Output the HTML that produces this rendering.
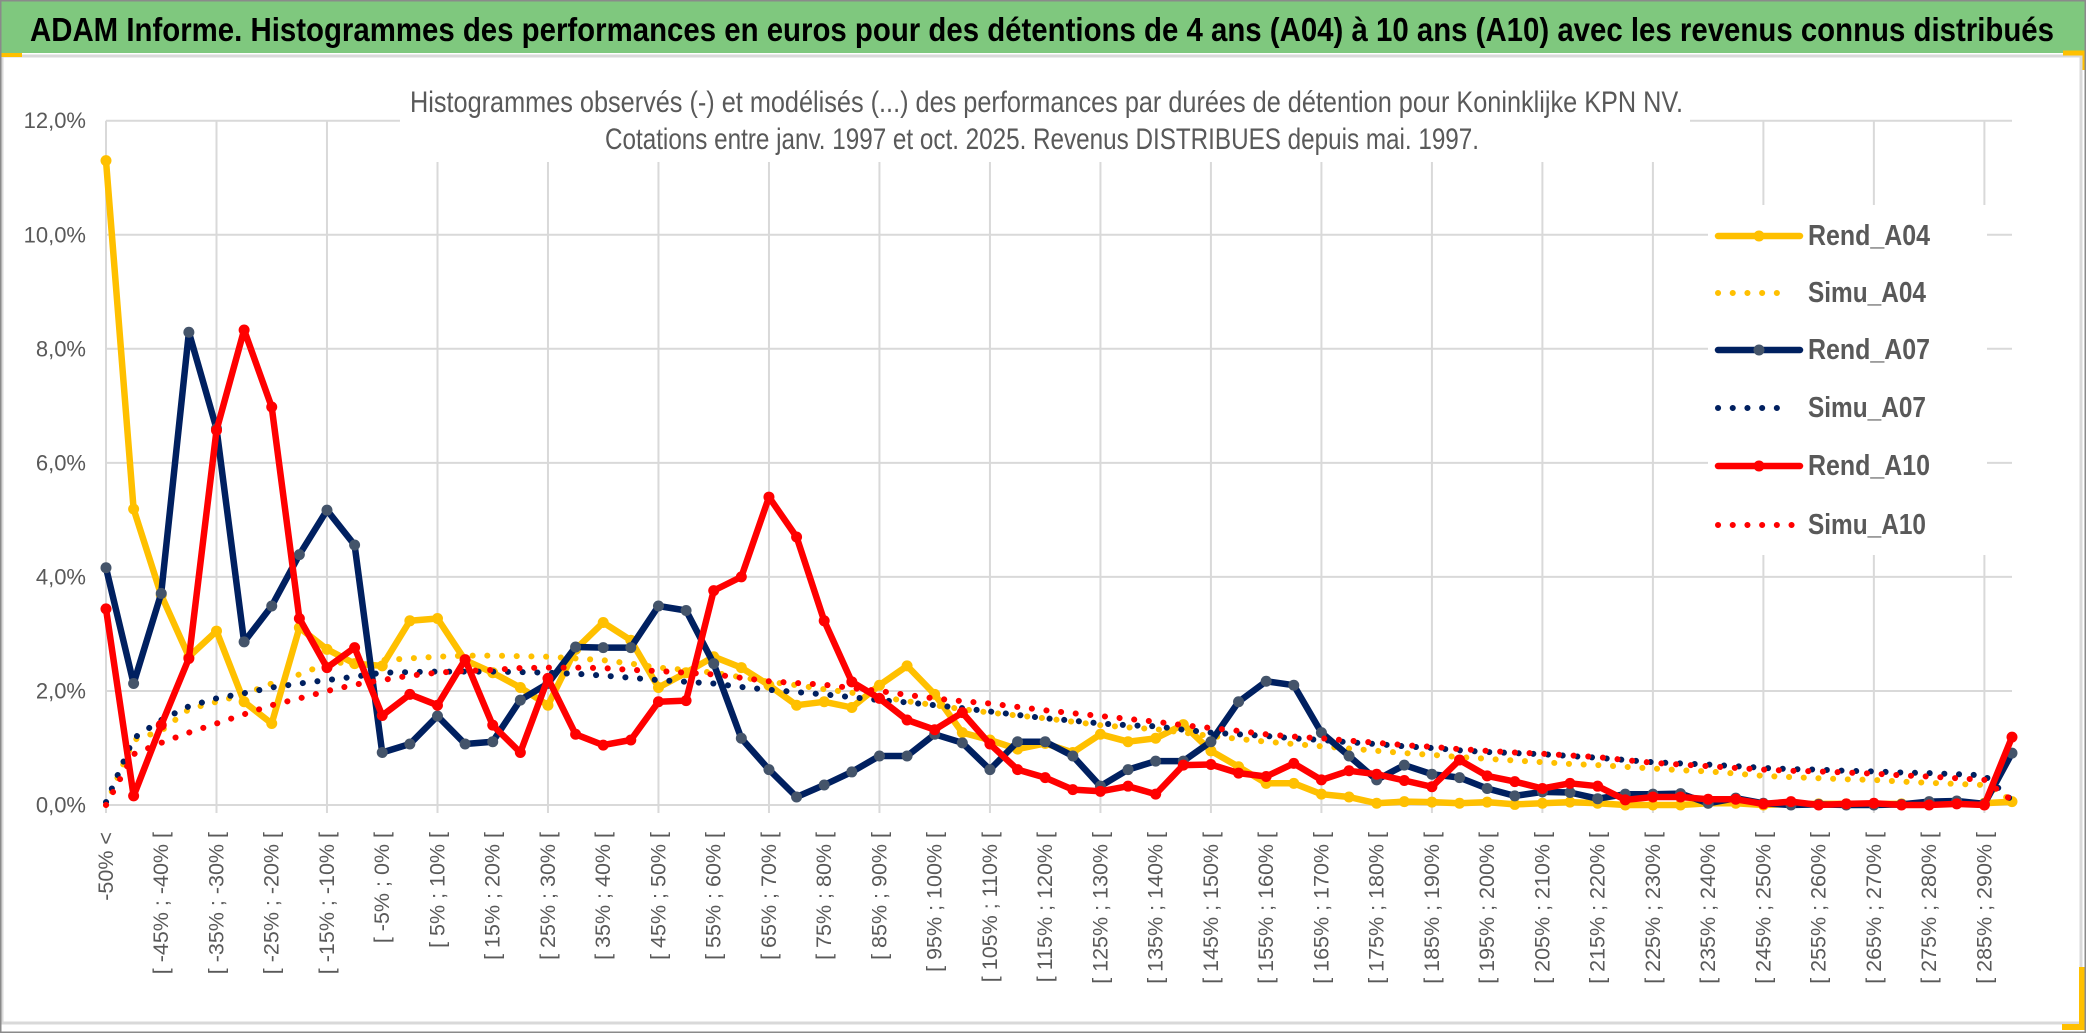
<!DOCTYPE html>
<html><head><meta charset="utf-8"><title>ADAM Informe KPN</title>
<style>html,body{margin:0;padding:0;background:#fff;}svg{display:block;}</style></head>
<body>
<svg id="chart" xmlns="http://www.w3.org/2000/svg" width="2086" height="1033" viewBox="0 0 2086 1033" font-family="'Liberation Sans', sans-serif">
  <rect x="0" y="0" width="2086" height="1033" fill="#fff"/>
  <rect x="0" y="0" width="2086" height="53" fill="#7fc87e"/>
  <text x="30" y="41" font-size="33" font-weight="bold" fill="#000" textLength="2024" lengthAdjust="spacingAndGlyphs">ADAM Informe. Histogrammes des performances en euros pour des détentions de 4 ans (A04) à 10 ans (A10) avec les revenus connus distribués</text>
  <rect x="2" y="56" width="2079" height="967" fill="none" stroke="#d9d9d9" stroke-width="3"/>
  <rect x="0" y="53" width="22" height="4" fill="#ffc000"/>
  <path d="M2063 53 H2085 V70" fill="none" stroke="#ffc000" stroke-width="5"/>
  <path d="M2062 1027 H2082 V967" fill="none" stroke="#ffc000" stroke-width="6"/>
  <rect x="0.5" y="0.5" width="2085" height="1032" fill="none" stroke="#8a8a8a" stroke-width="2"/>
  <g id="grid"></g>
  <g id="yaxis"></g>
  <g id="xaxis"></g>
  <g id="series"></g>
  <rect x="400" y="62" width="1290" height="100" fill="#fff"/>
  <text x="410" y="112" font-size="30" fill="#595959" textLength="1273" lengthAdjust="spacingAndGlyphs">Histogrammes observés (-) et modélisés (...) des performances par durées de détention pour Koninklijke KPN NV.</text>
  <text x="605" y="149" font-size="30" fill="#595959" textLength="874" lengthAdjust="spacingAndGlyphs">Cotations entre janv. 1997 et oct. 2025. Revenus DISTRIBUES depuis mai. 1997.</text>
  <g id="legend"></g>
</svg>
<script>
const categories = ["-50% <","[ -50% ; -45% [","[ -45% ; -40% [","[ -40% ; -35% [","[ -35% ; -30% [","[ -30% ; -25% [","[ -25% ; -20% [","[ -20% ; -15% [","[ -15% ; -10% [","[ -10% ; -5% [","[ -5% ; 0% [","[ 0% ; 5% [","[ 5% ; 10% [","[ 10% ; 15% [","[ 15% ; 20% [","[ 20% ; 25% [","[ 25% ; 30% [","[ 30% ; 35% [","[ 35% ; 40% [","[ 40% ; 45% [","[ 45% ; 50% [","[ 50% ; 55% [","[ 55% ; 60% [","[ 60% ; 65% [","[ 65% ; 70% [","[ 70% ; 75% [","[ 75% ; 80% [","[ 80% ; 85% [","[ 85% ; 90% [","[ 90% ; 95% [","[ 95% ; 100% [","[ 100% ; 105% [","[ 105% ; 110% [","[ 110% ; 115% [","[ 115% ; 120% [","[ 120% ; 125% [","[ 125% ; 130% [","[ 130% ; 135% [","[ 135% ; 140% [","[ 140% ; 145% [","[ 145% ; 150% [","[ 150% ; 155% [","[ 155% ; 160% [","[ 160% ; 165% [","[ 165% ; 170% [","[ 170% ; 175% [","[ 175% ; 180% [","[ 180% ; 185% [","[ 185% ; 190% [","[ 190% ; 195% [","[ 195% ; 200% [","[ 200% ; 205% [","[ 205% ; 210% [","[ 210% ; 215% [","[ 215% ; 220% [","[ 220% ; 225% [","[ 225% ; 230% [","[ 230% ; 235% [","[ 235% ; 240% [","[ 240% ; 245% [","[ 245% ; 250% [","[ 250% ; 255% [","[ 255% ; 260% [","[ 260% ; 265% [","[ 265% ; 270% [","[ 270% ; 275% [","[ 275% ; 280% [","[ 280% ; 285% [","[ 285% ; 290% [","290% <="];
const rendA04 = [11.3,5.19,3.68,2.6,3.05,1.81,1.43,3.11,2.73,2.48,2.44,3.23,3.27,2.54,2.32,2.06,1.75,2.73,3.2,2.89,2.06,2.32,2.6,2.41,2.1,1.75,1.81,1.71,2.1,2.44,1.94,1.27,1.14,0.98,1.08,0.92,1.24,1.11,1.17,1.41,0.95,0.67,0.38,0.38,0.19,0.14,0.03,0.06,0.05,0.03,0.05,0.01,0.03,0.05,0.03,0.0,0.0,0.0,0.03,0.03,0.0,0.02,0.02,0.02,0.02,0.02,0.02,0.03,0.03,0.06];
const simuA04 = [0.0,1.14,1.3,1.68,1.81,1.94,2.13,2.29,2.48,2.51,2.54,2.57,2.6,2.62,2.62,2.61,2.6,2.57,2.54,2.48,2.41,2.37,2.32,2.24,2.16,2.1,2.03,1.97,1.9,1.82,1.75,1.68,1.62,1.57,1.52,1.46,1.4,1.36,1.33,1.27,1.21,1.16,1.11,1.07,1.03,0.99,0.95,0.91,0.88,0.84,0.81,0.78,0.75,0.72,0.7,0.67,0.64,0.61,0.59,0.55,0.51,0.49,0.47,0.45,0.44,0.41,0.39,0.37,0.35,0.08];
const rendA07 = [4.16,2.13,3.71,8.29,6.6,2.86,3.49,4.39,5.17,4.56,0.92,1.07,1.56,1.07,1.11,1.84,2.13,2.77,2.76,2.76,3.49,3.41,2.48,1.17,0.62,0.14,0.35,0.58,0.86,0.86,1.24,1.09,0.62,1.11,1.11,0.86,0.33,0.62,0.77,0.77,1.11,1.81,2.17,2.1,1.27,0.86,0.44,0.7,0.54,0.48,0.29,0.16,0.23,0.22,0.11,0.19,0.19,0.2,0.03,0.12,0.03,0.0,0.01,0.0,0.0,0.01,0.06,0.07,0.02,0.91];
const simuA07 = [0.05,1.17,1.49,1.73,1.87,1.96,2.06,2.13,2.19,2.25,2.32,2.33,2.34,2.34,2.34,2.33,2.32,2.3,2.27,2.23,2.19,2.16,2.13,2.07,2.02,1.98,1.94,1.89,1.84,1.8,1.75,1.7,1.64,1.58,1.52,1.48,1.43,1.4,1.38,1.32,1.27,1.24,1.21,1.17,1.14,1.1,1.07,1.03,1.0,0.96,0.93,0.91,0.89,0.86,0.83,0.79,0.75,0.73,0.71,0.68,0.65,0.63,0.62,0.6,0.59,0.57,0.56,0.54,0.52,0.08];
const rendA10 = [3.44,0.16,1.4,2.57,6.57,8.33,6.98,3.27,2.41,2.76,1.57,1.94,1.75,2.55,1.4,0.92,2.22,1.24,1.05,1.14,1.81,1.83,3.76,4.0,5.4,4.7,3.23,2.16,1.87,1.49,1.32,1.62,1.07,0.62,0.48,0.27,0.24,0.33,0.19,0.7,0.71,0.56,0.5,0.73,0.44,0.6,0.54,0.43,0.32,0.79,0.51,0.41,0.29,0.38,0.33,0.09,0.14,0.14,0.1,0.1,0.02,0.06,0.0,0.02,0.03,0.0,0.0,0.02,0.0,1.19];
const simuA10 = [0.0,0.89,1.09,1.27,1.43,1.59,1.75,1.87,2.0,2.11,2.19,2.27,2.32,2.35,2.37,2.4,2.41,2.41,2.4,2.37,2.35,2.32,2.29,2.23,2.17,2.14,2.11,2.05,2.0,1.93,1.87,1.82,1.78,1.72,1.66,1.61,1.56,1.51,1.46,1.4,1.35,1.3,1.24,1.2,1.17,1.13,1.09,1.05,1.02,0.98,0.95,0.92,0.9,0.87,0.84,0.79,0.74,0.71,0.68,0.65,0.62,0.6,0.59,0.57,0.55,0.52,0.5,0.47,0.44,0.08];
const yTicks = [0,2,4,6,8,10,12];
const yTickLabels = ["0,0%","2,0%","4,0%","6,0%","8,0%","10,0%","12,0%"];
const seriesNames = ["Rend_A04","Simu_A04","Rend_A07","Simu_A07","Rend_A10","Simu_A10"];

const NS = "http://www.w3.org/2000/svg";
const X0 = 106, X1 = 2012, Y0 = 805, YTOP = 120.7, YMAX = 12;
function xPos(i){ return X0 + i * (X1 - X0) / (categories.length - 1); }
function yPos(v){ return Y0 - v * (Y0 - YTOP) / YMAX; }
function mk(tag, attrs){ const e = document.createElementNS(NS, tag); for (const k in attrs) e.setAttribute(k, attrs[k]); return e; }

const grid = document.getElementById('grid');
yTicks.forEach(function(t){
  const l = mk('line', {x1: X0, x2: X1, y1: yPos(t), y2: yPos(t), stroke: '#d9d9d9', 'stroke-width': 2});
  
  
  grid.appendChild(l);
});
categories.forEach(function(c, i){
  if (i % 4 !== 0) return;
  const l = mk('line', {x1: xPos(i), x2: xPos(i), y1: YTOP, y2: Y0 + 8, stroke: '#d9d9d9', 'stroke-width': 2});
  
  
  grid.appendChild(l);
});

const yaxis = document.getElementById('yaxis');
yTicks.forEach(function(t, k){
  const tx = mk('text', {x: 86, y: yPos(t), 'text-anchor': 'end', 'dominant-baseline': 'central', 'font-size': 22, fill: '#595959'});
  tx.textContent = yTickLabels[k];
  
  
  yaxis.appendChild(tx);
});

const xaxis = document.getElementById('xaxis');
categories.forEach(function(c, i){
  if (i % 2 !== 0) return;
  const x = xPos(i), y = 832;
  const tx = mk('text', {x: x, y: y, transform: 'rotate(-90 ' + x + ' ' + y + ')', 'text-anchor': 'end', 'dominant-baseline': 'central', 'font-size': 21.5, fill: '#595959'});
  tx.textContent = c;
  
  
  xaxis.appendChild(tx);
});

const seriesG = document.getElementById('series');
function pts(arr){ return arr.map(function(v, i){ return xPos(i).toFixed(1) + ',' + yPos(v).toFixed(1); }).join(' '); }
function drawRend(arr, color, marker, name){
  const g = mk('g', {});
  
  
  const pl = mk('polyline', {points: pts(arr), fill: 'none', stroke: color, 'stroke-width': 6.5, 'stroke-linejoin': 'round', 'stroke-linecap': 'round'});
  
  
  g.appendChild(pl);
  arr.forEach(function(v, i){
    const c = mk('circle', {cx: xPos(i), cy: yPos(v), r: 5.5, fill: marker});
    
    
    g.appendChild(c);
  });
  seriesG.appendChild(g);
}
function drawSimu(arr, color, name){
  const pl = mk('polyline', {points: pts(arr), fill: 'none', stroke: color, 'stroke-width': 6, 'stroke-linecap': 'round', 'stroke-dasharray': '0.1 14.6'});
  
  
  seriesG.appendChild(pl);
}
drawRend(rendA04, '#ffc000', '#ffc000', 'rend-a04');
drawSimu(simuA04, '#ffc000', 'simu-a04');
drawRend(rendA07, '#002060', '#44546a', 'rend-a07');
drawSimu(simuA07, '#002060', 'simu-a07');
drawRend(rendA10, '#ff0000', '#ff0000', 'rend-a10');
drawSimu(simuA10, '#ff0000', 'simu-a10');

const legend = document.getElementById('legend');
const lb = mk('rect', {x: 1708, y: 205, width: 279, height: 350, fill: '#fff'});


legend.appendChild(lb);
const legColors = ['#ffc000','#ffc000','#002060','#002060','#ff0000','#ff0000'];
const legMarkers = ['#ffc000','#ffc000','#44546a','#44546a','#ff0000','#ff0000'];
const legRows = [236, 293, 350, 408, 466, 525];
seriesNames.forEach(function(n, k){
  const y = legRows[k];
  const g = mk('g', {});
  
  
  if (k % 2 === 0) {
    g.appendChild(mk('line', {x1: 1718, x2: 1800, y1: y, y2: y, stroke: legColors[k], 'stroke-width': 6.5, 'stroke-linecap': 'round'}));
    g.appendChild(mk('circle', {cx: 1759, cy: y, r: 5.5, fill: legMarkers[k]}));
  } else {
    const end = (k === 5) ? 1800 : 1780;
    g.appendChild(mk('line', {x1: 1718, x2: end, y1: y, y2: y, stroke: legColors[k], 'stroke-width': 6, 'stroke-linecap': 'round', 'stroke-dasharray': '0.1 14.6'}));
  }
  const t = mk('text', {x: 1808, y: y, 'dominant-baseline': 'central', 'font-size': 29, 'font-weight': 'bold', fill: '#595959', textLength: (k % 2 === 0 ? 122 : 118), lengthAdjust: 'spacingAndGlyphs'});
  t.textContent = n;
  g.appendChild(t);
  legend.appendChild(g);
});
</script>
</body></html>
